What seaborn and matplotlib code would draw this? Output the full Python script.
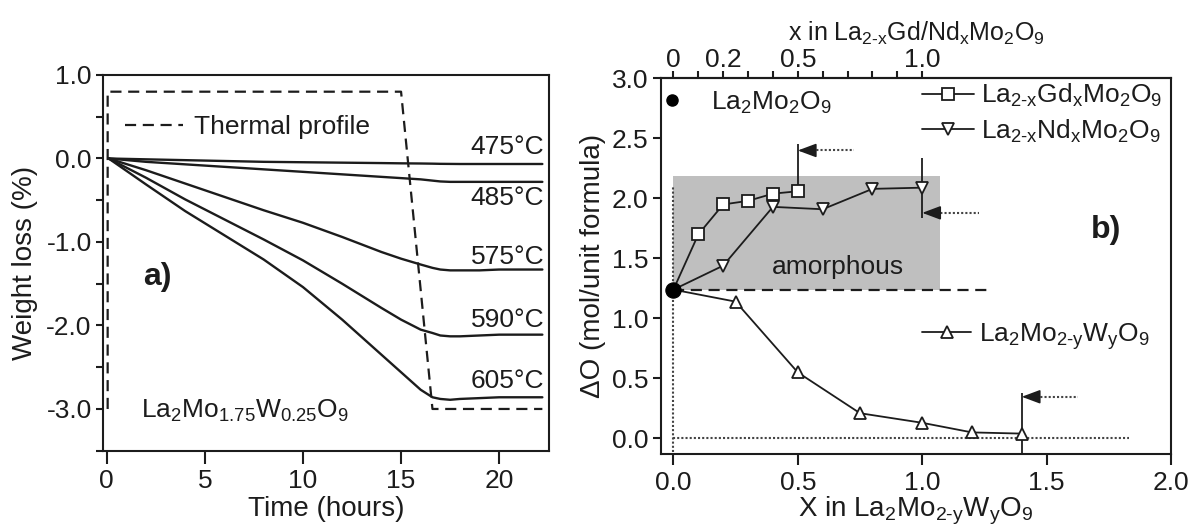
import numpy as np
import pandas as pd
import matplotlib
matplotlib.use("Agg")
import matplotlib.pyplot as plt
from matplotlib.lines import Line2D
import seaborn as sns

# ---------------- data: panel a) ----------------
time_h = [0.1, 2, 4, 6, 8, 10, 12, 14, 15, 16, 16.6, 17, 17.5, 18, 19, 20, 21, 22.2]
loss_475 = [0, -0.01, -0.02, -0.03, -0.04, -0.045, -0.05, -0.055, -0.058, -0.06, -0.062, -0.064, -0.065, -0.066, -0.066, -0.066, -0.066, -0.066]
loss_485 = [0, -0.04, -0.07, -0.10, -0.13, -0.16, -0.19, -0.22, -0.235, -0.25, -0.265, -0.275, -0.28, -0.28, -0.28, -0.28, -0.28, -0.28]
loss_575 = [0, -0.14, -0.30, -0.46, -0.62, -0.77, -0.94, -1.12, -1.20, -1.27, -1.31, -1.33, -1.34, -1.34, -1.34, -1.33, -1.33, -1.33]
loss_590 = [0, -0.23, -0.49, -0.73, -0.97, -1.22, -1.50, -1.79, -1.93, -2.05, -2.09, -2.12, -2.13, -2.13, -2.12, -2.11, -2.11, -2.11]
loss_605 = [0, -0.31, -0.63, -0.92, -1.21, -1.54, -1.93, -2.35, -2.56, -2.77, -2.86, -2.88, -2.89, -2.88, -2.87, -2.86, -2.86, -2.86]
temp_labels = ["475°C", "485°C", "575°C", "590°C", "605°C"]
temp_label_y = [0.14, -0.47, -1.18, -1.93, -2.67]

profile_t = [0.05, 0.05, 15.0, 16.6, 22.2]
profile_w = [-3.0, 0.8, 0.8, -3.0, -3.0]

# ---------------- data: panel b) ----------------
la_x, la_y = [0.0], [1.24]
gd_x = [0.0, 0.1, 0.2, 0.3, 0.4, 0.5]
gd_y = [1.24, 1.70, 1.95, 1.98, 2.04, 2.06]
nd_x = [0.0, 0.2, 0.4, 0.6, 0.8, 1.0]
nd_y = [1.24, 1.44, 1.93, 1.91, 2.08, 2.09]
w_x = [0.0, 0.25, 0.5, 0.75, 1.0, 1.2, 1.4]
w_y = [1.24, 1.14, 0.55, 0.21, 0.13, 0.05, 0.04]

amorph_x = [0.0, 1.07]
amorph_y = [1.24, 2.19]
ref_dash_x = [0.0, 1.27]
arrow_x = [0.5, 1.0, 1.4]
arrow_y = [2.40, 1.88, 0.347]
arrow_tail = [0.724, 1.228, 1.627]
arrow_lo = [2.08, 1.84, -0.13]
arrow_hi = [2.45, 2.34, 0.375]

top_ticks = [0.0, 0.1, 0.2, 0.3, 0.4, 0.5, 0.6, 0.7, 0.8, 0.9, 1.0]
top_labels = ["0", "", "0.2", "", "", "0.5", "", "", "", "", "1.0"]

# ---------------- style ----------------
sns.set_theme(style="ticks")
plt.rcParams["font.family"] = ["Liberation Sans", "DejaVu Sans"]
plt.rcParams["mathtext.fontset"] = "custom"
plt.rcParams["mathtext.rm"] = "Liberation Sans"
plt.rcParams["mathtext.it"] = "Liberation Sans:italic"
plt.rcParams["mathtext.bf"] = "Liberation Sans:bold"
INK = "#1c1c1c"
plt.rcParams["text.color"] = INK
plt.rcParams["axes.labelcolor"] = INK
plt.rcParams["xtick.color"] = INK
plt.rcParams["ytick.color"] = INK
FS = 19

fig = plt.figure(figsize=(11.92, 5.30), dpi=100)
ax1 = fig.add_axes([0.0862, 0.1496, 0.3744, 0.7089])
ax2 = fig.add_axes([0.5545, 0.1434, 0.4279, 0.7085])

for ax in (ax1, ax2):
    for s in ax.spines.values():
        s.set_visible(True)
        s.set_linewidth(1.5)
        s.set_color(INK)

# ---------------- panel a ----------------
df = pd.DataFrame({
    "time": time_h * 5,
    "loss": loss_475 + loss_485 + loss_575 + loss_590 + loss_605,
    "temp": sum([[t] * len(time_h) for t in temp_labels], []),
})
sns.lineplot(data=df, x="time", y="loss", hue="temp", palette=[INK] * 5,
             estimator=None, sort=False, legend=False, lw=1.7, ax=ax1)
sns.lineplot(x=profile_t, y=profile_w, sort=False, estimator=None, color=INK,
             lw=1.6, linestyle=(0, (5, 3)), ax=ax1)

for lab, y in zip(temp_labels, temp_label_y):
    ax1.text(22.3, y, lab, ha="right", va="center", fontsize=FS)
ax1.text(2.6, -1.42, "a)", ha="center", va="center", fontsize=23, fontweight="bold")
ax1.text(1.73, -3.02, r"La$_{\mathregular{2}}$Mo$_{\mathregular{1.75}}$W$_{\mathregular{0.25}}$O$_{\mathregular{9}}$",
         ha="left", va="center", fontsize=FS)

h_prof = Line2D([], [], color=INK, lw=1.6, linestyle=(0, (5, 3)))
ax1.legend(handles=[h_prof], labels=["Thermal profile"], loc="center left",
           bbox_to_anchor=(0.0497, 0.861), frameon=False, fontsize=FS,
           handlelength=2.2, handletextpad=0.4, borderpad=0, borderaxespad=0)

ax1.set_xlim(-0.2, 22.54)
ax1.set_ylim(-3.5, 1.0)
ax1.set_xticks([0, 5, 10, 15, 20])
ax1.set_xticklabels(["0", "5", "10", "15", "20"])
yt = np.arange(-3.5, 1.01, 0.5)
ax1.set_yticks(yt)
ax1.set_yticklabels([("%.1f" % v) if abs(v - round(v)) < 1e-9 else "" for v in yt])
ax1.tick_params(axis="x", direction="out", length=9, width=1.5, labelsize=FS, pad=4)
ax1.tick_params(axis="y", direction="out", length=5, width=1.5, labelsize=FS, pad=3)
ax1.set_xlabel("Time (hours)", fontsize=20, labelpad=2)
ax1.set_ylabel("Weight loss (%)", fontsize=20, labelpad=6)

# ---------------- panel b ----------------
ax2.fill_between(amorph_x, amorph_y[0], amorph_y[1], color="#bfbfbf", lw=0, zorder=0)
ax2.text(0.66, 1.43, "amorphous", ha="center", va="center", fontsize=FS)
ax2.plot(ref_dash_x, [la_y[0]] * 2, color=INK, lw=1.6, linestyle=(0, (5, 3)), zorder=1)
ax2.plot([0, 0], [-0.11, 2.10], color="#444444", lw=1.5, linestyle=(0, (1, 1)), zorder=1)
ax2.plot([0, 1.83], [0, 0], color="#444444", lw=1.5, linestyle=(0, (1, 1)), zorder=1)

ax2.vlines(arrow_x, arrow_lo, arrow_hi, color=INK, lw=1.3, zorder=2)
for xa, ya, xt in zip(arrow_x, arrow_y, arrow_tail):
    ax2.plot([xa + 0.04, xt], [ya, ya], color="#444444", lw=1.5, linestyle=(0, (1, 1)), zorder=2)
    ax2.annotate("", xy=(xa, ya), xytext=(xa + 0.07, ya),
                 arrowprops=dict(arrowstyle="-|>,head_length=0.75,head_width=0.28",
                                 mutation_scale=15, color=INK, lw=1.2,
                                 shrinkA=0, shrinkB=0), zorder=3)

mk = dict(markersize=8, markerfacecolor="white", markeredgecolor=INK, markeredgewidth=1.3)
sns.lineplot(x=gd_x, y=gd_y, sort=False, estimator=None, color=INK, lw=1.3, marker="s",
             markevery=list(range(1, len(gd_x))), ax=ax2, zorder=4, **mk)
sns.lineplot(x=nd_x, y=nd_y, sort=False, estimator=None, color=INK, lw=1.3, marker="v",
             markevery=list(range(1, len(nd_x))), ax=ax2, zorder=4, **{**mk, "markersize": 9})
sns.lineplot(x=w_x, y=w_y, sort=False, estimator=None, color=INK, lw=1.3, marker="^",
             markevery=list(range(1, len(w_x))), ax=ax2, zorder=4, **{**mk, "markersize": 9})
sns.scatterplot(x=la_x, y=la_y, color="black", s=120, edgecolor="black", ax=ax2, zorder=6)

ax2.text(1.74, 1.74, "b)", ha="center", va="center", fontsize=23, fontweight="bold")

h_gd = Line2D([], [], color=INK, lw=1.3, marker="s", **mk)
h_nd = Line2D([], [], color=INK, lw=1.3, marker="v", **{**mk, "markersize": 9})
h_w = Line2D([], [], color=INK, lw=1.3, marker="^", **{**mk, "markersize": 9})
h_la = Line2D([], [], color="black", ls="", marker="o", markersize=8)

lab_gd = r"La$_{\mathregular{2\text{-}x}}$Gd$_{\mathregular{x}}$Mo$_{\mathregular{2}}$O$_{\mathregular{9}}$"
lab_nd = r"La$_{\mathregular{2\text{-}x}}$Nd$_{\mathregular{x}}$Mo$_{\mathregular{2}}$O$_{\mathregular{9}}$"
lab_w = r"La$_{\mathregular{2}}$Mo$_{\mathregular{2\text{-}y}}$W$_{\mathregular{y}}$O$_{\mathregular{9}}$"
lab_la = r"La$_{\mathregular{2}}$Mo$_{\mathregular{2}}$O$_{\mathregular{9}}$"

leg1 = ax2.legend(handles=[h_gd, h_nd], labels=[lab_gd, lab_nd], loc="upper left",
                  bbox_to_anchor=(0.512, 0.99), frameon=False, fontsize=FS,
                  handlelength=1.95, handletextpad=0.3, borderpad=0, borderaxespad=0,
                  labelspacing=0.3)
ax2.add_artist(leg1)
leg2 = ax2.legend(handles=[h_la], labels=[lab_la], loc="center left",
                  bbox_to_anchor=(0.0, 0.936), frameon=False, fontsize=FS,
                  handlelength=0.8, handletextpad=1.1, borderpad=0, borderaxespad=0)
ax2.add_artist(leg2)
ax2.legend(handles=[h_w], labels=[lab_w], loc="center left",
           bbox_to_anchor=(0.512, 0.313), frameon=False, fontsize=FS,
           handlelength=1.85, handletextpad=0.3, borderpad=0, borderaxespad=0)

ax2.set_xlim(-0.05, 2.0)
ax2.set_ylim(-0.13, 3.0)
ax2.set_xticks([0, 0.5, 1.0, 1.5, 2.0])
ax2.set_xticklabels(["0.0", "0.5", "1.0", "1.5", "2.0"])
ax2.set_yticks([0, 0.5, 1.0, 1.5, 2.0, 2.5, 3.0])
ax2.set_yticklabels(["0.0", "0.5", "1.0", "1.5", "2.0", "2.5", "3.0"])
ax2.tick_params(axis="x", direction="out", length=8, width=1.5, labelsize=FS, pad=4)
ax2.tick_params(axis="y", direction="out", length=6, width=1.5, labelsize=FS, pad=3)
ax2.set_xlabel(r"X in La$_{\mathregular{2}}$Mo$_{\mathregular{2\text{-}y}}$W$_{\mathregular{y}}$O$_{\mathregular{9}}$",
               fontsize=20, labelpad=0)
ax2.set_ylabel("ΔO (mol/unit formula)", fontsize=20, labelpad=4)

top = ax2.secondary_xaxis("top")
top.set_xticks(top_ticks)
top.set_xticklabels(top_labels)
top.tick_params(axis="x", direction="out", length=5, width=1.5, labelsize=FS, pad=0)
top.set_xlabel(r"x in La$_{\mathregular{2\text{-}x}}$Gd/Nd$_{\mathregular{x}}$Mo$_{\mathregular{2}}$O$_{\mathregular{9}}$",
               fontsize=18, labelpad=5)
top.spines["top"].set_linewidth(1.5)

fig.savefig("out.png", dpi=100)
